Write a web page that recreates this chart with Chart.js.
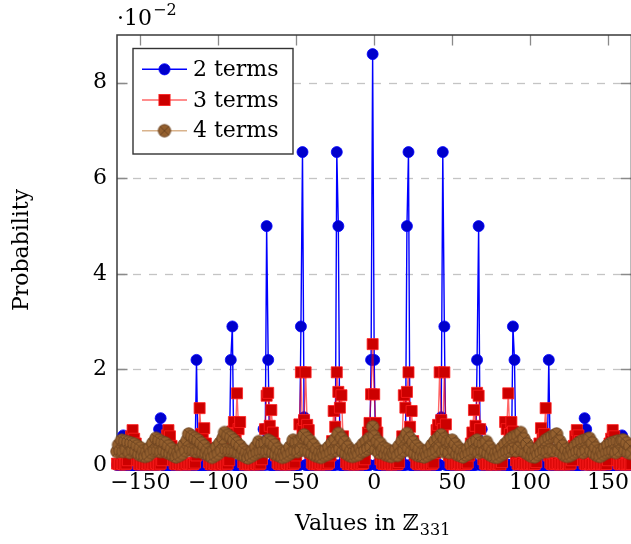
<!DOCTYPE html>
<html><head><meta charset="utf-8">
<script src="https://cdn.jsdelivr.net/npm/chart.js@4"></script>
<style>html,body{margin:0;padding:0;overflow:hidden;background:#fff;width:631px;height:544px}canvas{display:block}</style>
</head><body>
<canvas id="c" width="640" height="544" style="width:640px;height:544px"></canvas>
<script>
const xMin = -165, xMax = 165;
const yMin = 0, yMax = 9;
const xTickValues = [-150, -100, -50, 0, 50, 100, 150];
const yTickValues = [0, 2, 4, 6, 8];
const seriesNames = ['2 terms', '3 terms', '4 terms'];

// values (×10^-2) for x = -165 … 165
const twoTerms = [
0,0,0,0,0.62,0,0,0,0,0,
0,0,0,0,0,0,0,0,0,0,
0,0,0,0,0,0,0,0.75,0.98,0,
0,0,0,0,0,0,0,0,0,0,
0,0,0,0,0,0,0,0,0,0,
0,2.2,0,0,0,0,0,0,0,0,
0,0,0,0,0,0,0,0,0,0,
0,0,0,2.2,2.9,0,0,0,0,0,
0,0,0,0,0,0,0,0,0,0,
0,0,0,0,0.75,0,5.0,2.2,0,0,
0,0,0,0,0,0,0,0,0,0,
0,0,0,0,0,0,0,0,2.9,6.55,
1.0,0,0,0,0,0,0,0,0,0,
0,0,0,0,0,0,0,0,0,0,
0,6.55,5.0,0,0,0,0,0,0,0,
0,0,0,0,0,0,0,0,0,0,
0,0,0,2.2,8.6,2.2,0,0,0,0,
0,0,0,0,0,0,0,0,0,0,
0,0,0,0,0,0,5.0,6.55,0,0,
0,0,0,0,0,0,0,0,0,0,
0,0,0,0,0,0,0,0,1.0,6.55,
2.9,0,0,0,0,0,0,0,0,0,
0,0,0,0,0,0,0,0,0,0,
0,2.2,5.0,0,0.75,0,0,0,0,0,
0,0,0,0,0,0,0,0,0,0,
0,0,0,0,2.9,2.2,0,0,0,0,
0,0,0,0,0,0,0,0,0,0,
0,0,0,0,0,0,0,2.2,0,0,
0,0,0,0,0,0,0,0,0,0,
0,0,0,0,0,0,0,0,0,0,
0.98,0.75,0,0,0,0,0,0,0,0,
0,0,0,0,0,0,0,0,0,0,
0,0,0,0,0.62,0,0,0,0,0,
0
];

const threeTerms = [
0.03,0.02,0.01,0.04,0.02,0.01,0.03,0.1,0.35,0.6,
0.73,0.55,0.45,0.1,0.02,0.01,0.03,0.02,0.01,0.04,
0.02,0.01,0.03,0.02,0.01,0.04,0.02,0.01,0.03,0.1,
0.3,0.5,0.62,0.73,0.6,0.4,0.1,0.03,0.01,0.04,
0.02,0.01,0.03,0.02,0.01,0.04,0.02,0.03,0.01,0.02,
0.05,0.2,0.45,1.19,0.65,0.55,0.77,0.45,0.35,0.06,
0.02,0.01,0.04,0.02,0.01,0.03,0.02,0.01,0.04,0.02,
0.01,0.03,0.1,0.35,0.7,0.9,0.65,1.5,0.75,0.9,
0.3,0.06,0.01,0.02,0.03,0.01,0.02,0.03,0.01,0.04,
0.02,0.01,0.03,0.12,0.4,0.75,1.45,1.51,0.82,1.15,
0.68,0.45,0.2,0.05,0.02,0.01,0.03,0.02,0.01,0.04,
0.02,0.01,0.03,0.02,0.05,0.2,0.5,0.85,1.94,0.75,
0.94,1.94,0.84,0.73,0.25,0.05,0.02,0.01,0.03,0.02,
0.01,0.04,0.02,0.03,0.01,0.02,0.05,0.2,0.5,1.13,
0.8,1.94,1.53,1.2,1.46,0.6,0.3,0.06,0.02,0.01,
0.03,0.02,0.01,0.04,0.02,0.01,0.03,0.02,0.04,0.12,
0.35,0.68,0.88,1.48,
2.53,
1.48,0.88,0.68,0.35,0.12,0.04,0.02,0.03,0.01,0.02,
0.04,0.01,0.02,0.03,0.01,0.02,0.06,0.3,0.6,1.46,
1.2,1.53,1.94,0.8,1.13,0.5,0.2,0.05,0.02,0.01,
0.03,0.02,0.04,0.01,0.02,0.03,0.01,0.02,0.05,0.25,
0.73,0.84,1.94,0.94,0.75,1.94,0.85,0.5,0.2,0.05,
0.02,0.03,0.01,0.02,0.04,0.01,0.02,0.03,0.01,0.02,
0.05,0.2,0.45,0.68,1.15,0.82,1.51,1.45,0.75,0.4,
0.12,0.03,0.01,0.02,0.04,0.01,0.03,0.02,0.01,0.03,
0.02,0.01,0.06,0.3,0.9,0.75,1.5,0.65,0.9,0.7,
0.35,0.1,0.03,0.01,0.02,0.04,0.01,0.02,0.03,0.01,
0.02,0.04,0.01,0.02,0.06,0.35,0.45,0.77,0.55,0.65,
1.19,0.45,0.2,0.05,0.02,0.01,0.03,0.02,0.04,0.01,
0.02,0.03,0.01,0.02,0.04,0.01,0.03,0.1,0.4,0.6,
0.73,0.62,0.5,0.3,0.1,0.03,0.01,0.02,0.04,0.01,
0.02,0.03,0.01,0.02,0.04,0.01,0.02,0.03,0.01,0.02,
0.1,0.45,0.55,0.73,0.6,0.35,0.1,0.03,0.01,0.02,
0.04,0.01,0.02,0.03,0.01,0.02
];

const fourTerms = [
0.28,0.42,0.3,0.52,0.28,0.5,0.32,0.48,0.26,0.46,
0.3,0.44,0.28,0.4,0.22,0.36,0.2,0.3,0.18,0.28,
0.2,0.36,0.26,0.46,0.3,0.56,0.3,0.52,0.28,0.48,
0.3,0.46,0.26,0.4,0.24,0.34,0.2,0.28,0.17,0.26,
0.2,0.34,0.24,0.42,0.3,0.52,0.65,0.32,0.6,0.3,
0.56,0.28,0.52,0.3,0.46,0.26,0.4,0.24,0.32,0.2,
0.27,0.16,0.3,0.2,0.38,0.24,0.46,0.3,0.56,0.68,
0.32,0.62,0.3,0.58,0.3,0.52,0.28,0.46,0.24,0.4,
0.22,0.32,0.18,0.27,0.15,0.24,0.18,0.3,0.22,0.38,
0.26,0.49,0.28,0.44,0.3,0.46,0.28,0.52,0.3,0.48,
0.26,0.42,0.22,0.34,0.2,0.28,0.16,0.25,0.18,0.3,
0.22,0.38,0.26,0.52,0.3,0.48,0.28,0.5,0.32,0.58,
0.63,0.3,0.56,0.28,0.5,0.24,0.42,0.2,0.33,0.18,
0.27,0.16,0.26,0.2,0.32,0.22,0.38,0.26,0.46,0.3,
0.54,0.3,0.66,0.34,0.56,0.28,0.48,0.24,0.38,0.2,
0.3,0.18,0.27,0.2,0.3,0.22,0.36,0.28,0.44,0.3,
0.5,0.34,0.56,0.38,
0.8,
0.6,0.32,0.5,0.26,0.45,0.3,0.36,0.22,0.33,0.2,
0.28,0.18,0.26,0.22,0.32,0.2,0.4,0.26,0.5,0.3,
0.58,0.66,0.34,0.56,0.28,0.48,0.24,0.4,0.2,0.34,
0.19,0.28,0.17,0.27,0.2,0.33,0.24,0.42,0.26,0.5,
0.3,0.56,0.36,0.63,0.28,0.55,0.3,0.5,0.26,0.46,
0.52,0.3,0.44,0.22,0.36,0.2,0.3,0.17,0.27,0.21,
0.34,0.24,0.42,0.28,0.48,0.3,0.52,0.26,0.46,0.3,
0.44,0.28,0.49,0.24,0.38,0.2,0.3,0.17,0.26,0.16,
0.28,0.2,0.36,0.24,0.44,0.28,0.5,0.3,0.56,0.34,
0.6,0.3,0.62,0.36,0.68,0.3,0.55,0.26,0.44,0.22,
0.34,0.18,0.28,0.17,0.3,0.22,0.38,0.26,0.46,0.3,
0.52,0.28,0.56,0.32,0.6,0.3,0.62,0.65,0.32,0.5,
0.26,0.4,0.2,0.32,0.18,0.27,0.2,0.32,0.24,0.4,
0.28,0.46,0.3,0.5,0.26,0.52,0.3,0.54,0.56,0.3,
0.46,0.24,0.36,0.2,0.3,0.18,0.28,0.22,0.36,0.26,
0.42,0.28,0.46,0.3,0.48,0.26,0.5,0.3,0.48,0.52,
0.52,0.3,0.46,0.26,0.4,0.24
];

const xValues = twoTerms.map((_, i) => xMin + i);
const toPoints = arr => arr.map((v, i) => ({x: xValues[i], y: v}));

const FONT = '"DejaVu Serif", "Liberation Serif", serif';
const BLUE_LINE = '#0000ff', BLUE_FILL = '#0000cc';
const RED_LINE = 'rgba(255,0,0,0.6)', RED_FILL = '#cc0000', RED_EDGE = '#ff2020';
const BROWN_LINE = 'rgba(191,128,64,0.6)', BROWN_FILL = '#94602f', BROWN_EDGE = '#6a4220';

function makeOtimes(r) {
  const s = 2 * Math.ceil(r + 1.5);
  const c = document.createElement('canvas');
  c.width = s; c.height = s;
  const g = c.getContext('2d');
  const m = s / 2;
  g.beginPath(); g.arc(m, m, r, 0, 2 * Math.PI);
  g.fillStyle = BROWN_FILL; g.fill();
  g.lineWidth = 0.9; g.strokeStyle = BROWN_EDGE; g.stroke();
  const d = r * Math.SQRT1_2;
  g.beginPath(); g.moveTo(m - d, m - d); g.lineTo(m + d, m + d);
  g.moveTo(m + d, m - d); g.lineTo(m - d, m + d); g.stroke();
  return c;
}
const otimes = makeOtimes(6.2);

const fmt = v => (v < 0 ? '\u2212' + Math.abs(v) : String(v));

const framePlugin = {
  id: 'frame',
  beforeDraw(chart) {
    const ctx = chart.ctx;
    ctx.save(); ctx.fillStyle = '#fff'; ctx.fillRect(0, 0, chart.width, chart.height); ctx.restore();
  },
  beforeDatasetsDraw(chart) {
    const {ctx, chartArea: a, scales: {x, y}} = chart;
    ctx.save();
    ctx.strokeStyle = '#c4c4c4'; ctx.lineWidth = 1.3; ctx.setLineDash([8, 8]);
    yTickValues.forEach(v => {
      if (v === 0) return;
      const py = Math.round(y.getPixelForValue(v)) + 0.5;
      ctx.beginPath(); ctx.moveTo(a.left, py); ctx.lineTo(a.right, py); ctx.stroke();
    });
    ctx.setLineDash([]);
    ctx.strokeStyle = '#8a8a8a'; ctx.lineWidth = 1.3;
    const tl = 10.5;
    xTickValues.forEach(v => {
      const px = Math.round(x.getPixelForValue(v)) + 0.5;
      ctx.beginPath();
      ctx.moveTo(px, a.top); ctx.lineTo(px, a.top + tl);
      ctx.moveTo(px, a.bottom); ctx.lineTo(px, a.bottom - tl);
      ctx.stroke();
    });
    yTickValues.forEach(v => {
      const py = Math.round(y.getPixelForValue(v)) + 0.5;
      ctx.beginPath();
      ctx.moveTo(a.left, py); ctx.lineTo(a.left + tl, py);
      ctx.moveTo(a.right, py); ctx.lineTo(a.right - tl, py);
      ctx.stroke();
    });
    ctx.strokeStyle = '#3a3a3a'; ctx.lineWidth = 1.5;
    ctx.strokeRect(a.left, a.top, a.right - a.left, a.bottom - a.top);
    ctx.restore();
  },
  afterDraw(chart) {
    const {ctx, chartArea: a} = chart;
    ctx.save();
    const bx = 133, by = 48.5, bw = 160, bh = 105.5;
    ctx.fillStyle = '#fff'; ctx.fillRect(bx, by, bw, bh);
    ctx.strokeStyle = '#333'; ctx.lineWidth = 1.4; ctx.strokeRect(bx, by, bw, bh);
    const rows = [69.3, 100, 130.7];
    const lineCols = [BLUE_LINE, RED_LINE, BROWN_LINE];
    rows.forEach((ry, k) => {
      ctx.strokeStyle = lineCols[k]; ctx.lineWidth = 1.5;
      ctx.beginPath(); ctx.moveTo(142, ry); ctx.lineTo(187, ry); ctx.stroke();
      const mx = 164.5;
      if (k === 0) {
        ctx.beginPath(); ctx.arc(mx, ry, 5.6, 0, 2 * Math.PI);
        ctx.fillStyle = BLUE_FILL; ctx.fill(); ctx.strokeStyle = BLUE_LINE; ctx.lineWidth = 0.8; ctx.stroke();
      } else if (k === 1) {
        ctx.fillStyle = RED_FILL; ctx.fillRect(mx - 5.6, ry - 5.6, 11.2, 11.2);
        ctx.strokeStyle = RED_EDGE; ctx.lineWidth = 0.8; ctx.strokeRect(mx - 5.6, ry - 5.6, 11.2, 11.2);
      } else {
        ctx.drawImage(otimes, mx - otimes.width / 2, ry - otimes.height / 2);
      }
      ctx.fillStyle = '#000'; ctx.font = '22px ' + FONT; ctx.textAlign = 'left'; ctx.textBaseline = 'middle';
      ctx.fillText(seriesNames[k], 193, ry + 1);
    });
    ctx.fillStyle = '#000'; ctx.textBaseline = 'alphabetic'; ctx.textAlign = 'left';
    ctx.font = '22px ' + FONT;
    const base = '\u00B710';
    ctx.fillText(base, 117, 25);
    const w1 = ctx.measureText(base).width;
    ctx.font = '16px ' + FONT;
    ctx.fillText('\u22122', 117 + w1 + 1, 15);
    const t1 = 'Values in \u2124', t2 = '331';
    ctx.font = '22px ' + FONT;
    const wA = ctx.measureText(t1).width;
    ctx.font = '16px ' + FONT;
    const wB = ctx.measureText(t2).width;
    const cx = (a.left + a.right) / 2 - 1.5;
    const sx = cx - (wA + wB + 1) / 2;
    ctx.font = '22px ' + FONT; ctx.fillText(t1, sx, 530);
    ctx.font = '16px ' + FONT; ctx.fillText(t2, sx + wA + 1, 535);
    ctx.translate(22, 250); ctx.rotate(-Math.PI / 2);
    ctx.font = '22px ' + FONT; ctx.textAlign = 'center'; ctx.textBaseline = 'middle';
    ctx.fillText('Probability', 0, 0);
    ctx.restore();
  }
};

// Chart.js draws the first dataset top-most: brown on top, red, blue underneath
new Chart(document.getElementById('c'), {
  type: 'line',
  data: {
    datasets: [
      {label: seriesNames[2], data: toPoints(fourTerms), clip: false,
       borderColor: BROWN_LINE, borderWidth: 1.2, pointStyle: otimes, pointRadius: 6,
       tension: 0},
      {label: seriesNames[1], data: toPoints(threeTerms), clip: false,
       borderColor: RED_LINE, borderWidth: 1.4, pointStyle: 'rect', pointRadius: 7.8,
       pointBackgroundColor: RED_FILL, pointBorderColor: RED_EDGE, pointBorderWidth: 0.8, tension: 0},
      {label: seriesNames[0], data: toPoints(twoTerms), clip: false,
       borderColor: BLUE_LINE, borderWidth: 1.4, pointStyle: 'circle', pointRadius: 5.5,
       pointBackgroundColor: BLUE_FILL, pointBorderColor: BLUE_LINE, pointBorderWidth: 0.8, tension: 0}
    ]
  },
  options: {
    responsive: false, animation: false, devicePixelRatio: 1,
    layout: {padding: {left: 0, right: 5, top: 35, bottom: 0}},
    plugins: {legend: {display: false}, tooltip: {enabled: false}},
    events: [],
    scales: {
      x: {
        type: 'linear', min: xMin, max: xMax,
        grid: {display: false, drawTicks: false}, border: {display: false},
        afterFit: s => { s.height = 79; },
        afterBuildTicks: s => { s.ticks = xTickValues.map(v => ({value: v})); },
        ticks: {autoSkip: false, maxRotation: 0, padding: 5, color: '#000',
                font: {family: FONT, size: 22}, callback: v => fmt(v)}
      },
      y: {
        type: 'linear', min: yMin, max: yMax,
        grid: {display: false, drawTicks: false}, border: {display: false},
        afterFit: s => { s.width = 117; },
        afterBuildTicks: s => { s.ticks = yTickValues.map(v => ({value: v})); },
        ticks: {padding: 10, color: '#000', font: {family: FONT, size: 22}, callback: v => fmt(v)}
      }
    }
  },
  plugins: [framePlugin]
});
</script>
</body></html>
